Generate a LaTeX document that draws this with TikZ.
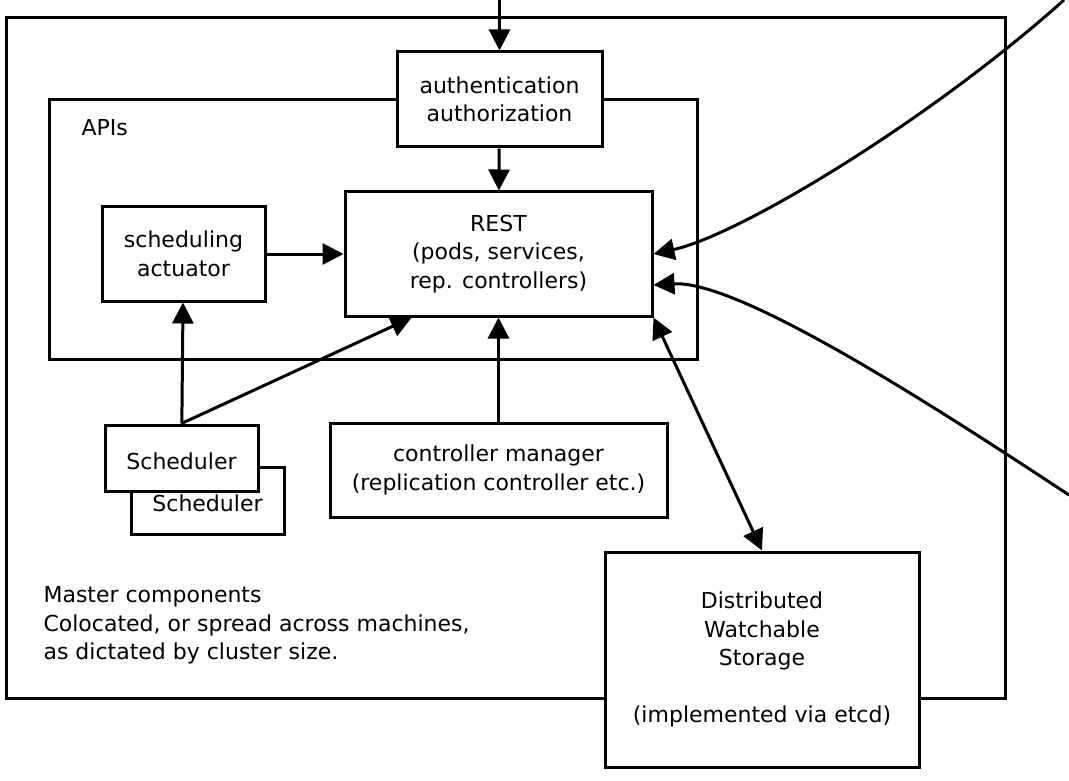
\documentclass[tikz,border=0pt]{standalone}
\usepackage{fontspec}
\setmainfont{DejaVu Sans}
\usetikzlibrary{arrows.meta,calc}

\begin{document}
\begin{tikzpicture}
[x=1pt,y=-1pt,font=\fontsize{22}{28.5}\selectfont]
\tikzset{box/.style={draw,line width=3pt,fill=white,align=center,inner sep=0pt,
  execute at begin node={\rule{0pt}{23pt}}},
arr/.style={line width=3pt,-{Triangle[length=21pt,width=21pt]}},
dblarr/.style={line width=3pt,{Triangle[length=21pt,width=21pt]}-{Triangle[length=21pt,width=21pt]}}}
\useasboundingbox (0,0) rectangle (1069,781);

\node [box,minimum width=999,minimum height=680] (master) at (505.5,358) {};
\node [box,minimum width=648,minimum height=259] (apis) at (373,229.5) {};
\node [anchor=west] (apislabel) at (78,128) {APIs};
\node [box,minimum width=205,minimum height=95] (auth) at (499.5,99.5) {authentication\\authorization};
\node [box,minimum width=307,minimum height=124] (rest) at (498.5,254) {REST\\(pods, services,\\rep. controllers)};
\node [box,minimum width=163,minimum height=94] (sa) at (183.5,254) {scheduling\\actuator};
\node [box,minimum width=153,minimum height=67] (sched2) at (207.5,500.5) {Scheduler};
\node [box,minimum width=153,minimum height=66] (sched) at (181.5,458) {Scheduler};
\node [box,minimum width=337,minimum height=94] (cm) at (498.5,470) {controller manager\\(replication controller etc.)};
\node [box,minimum width=314,minimum height=215] (store) at (762,659.5) {Distributed\\Watchable\\Storage\\[28.5pt](implemented via etcd)};
\node [anchor=north west,align=left] (note) at (40,583) {Master components\\Colocated, or spread across machines,\\as dictated by cluster size.};

\coordinate (top) at (499.5,0);
\coordinate (in1) at (1064,0);
\coordinate (in2) at (1069,495);

\foreach \from/\to in {top/auth.north,auth/rest,sa/rest,cm/rest,sched/sa}
	\draw [arr] (\from) -- (\to);

\draw [arr] (sched.north) -- ($(rest.south west)!0.22!(rest.south east)$);
\draw [dblarr] (rest.south east) -- (store.north);
\draw [arr] (in1) .. controls (930,120) and (740,235) .. (rest.east);
\draw [arr] (in2) .. controls (940,410) and (740,280) .. ($(rest.east)+(0,31)$);

\end{tikzpicture}
\end{document}
